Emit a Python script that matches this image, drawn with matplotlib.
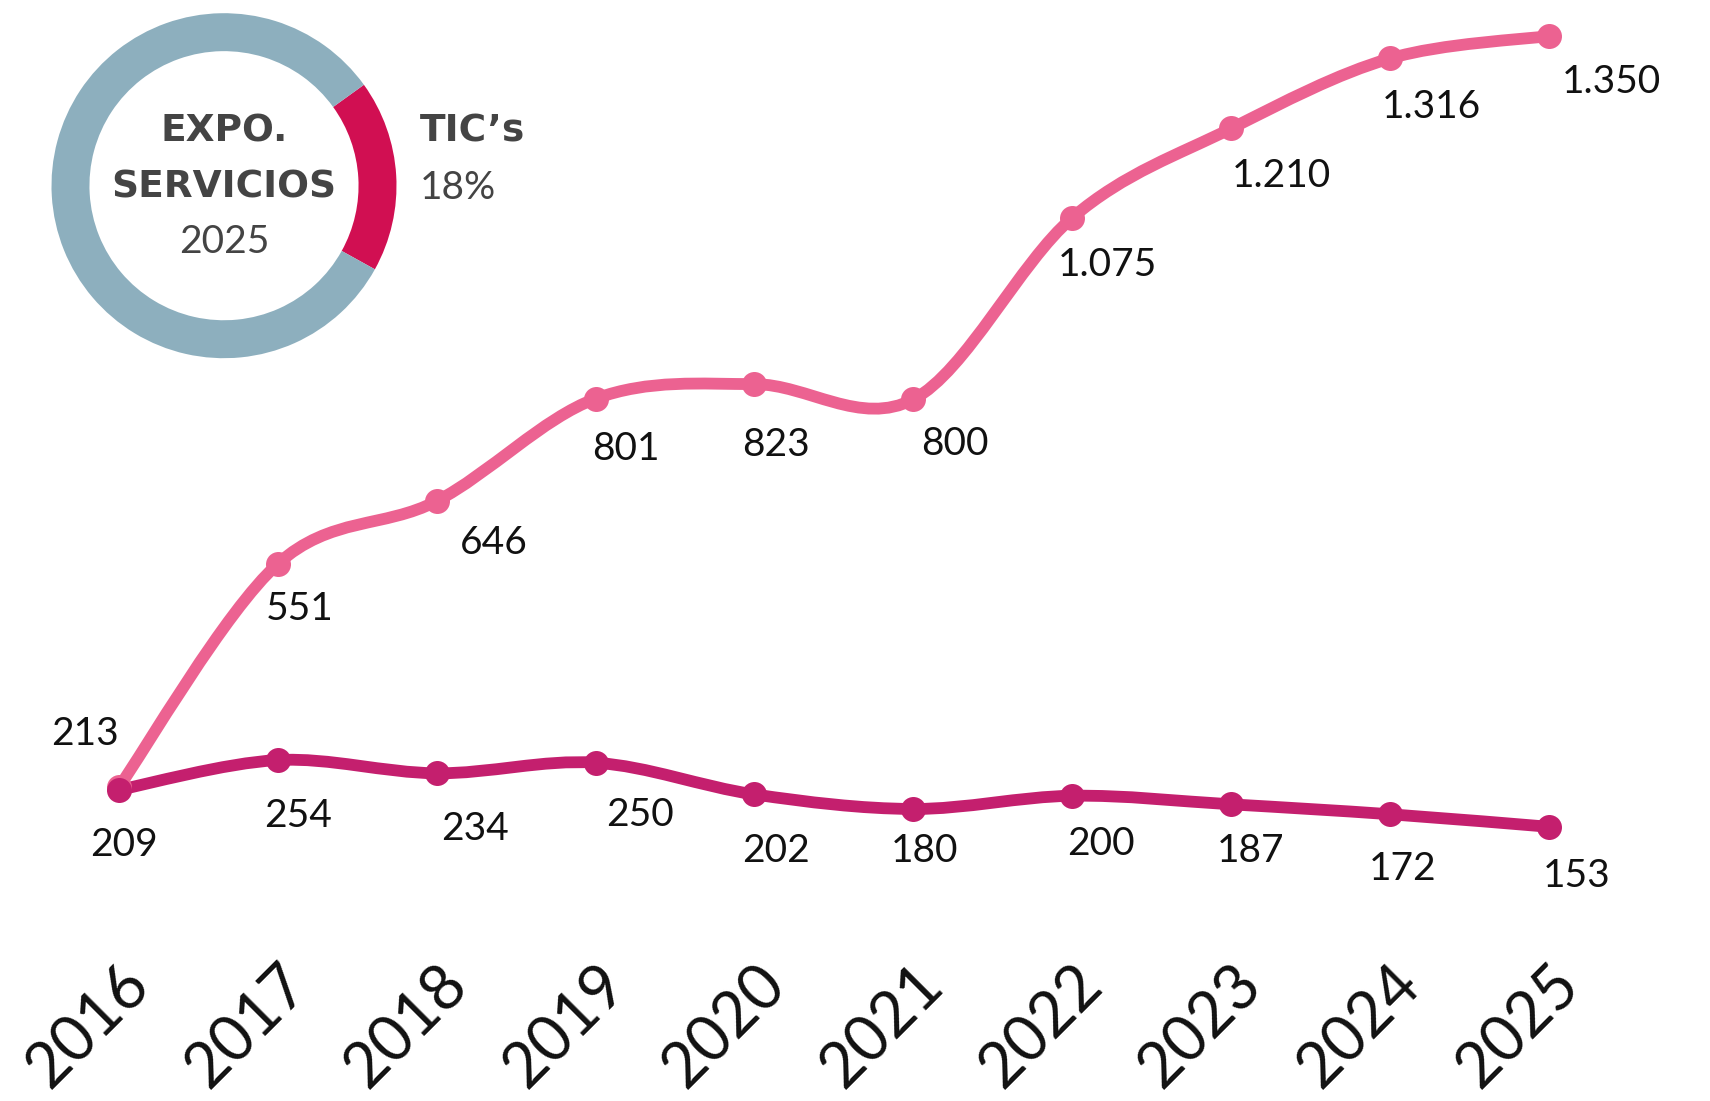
import numpy as np
import matplotlib.pyplot as plt
from matplotlib.path import Path
from matplotlib.patches import PathPatch

plt.rcParams['font.family'] = ['Lato', 'DejaVu Sans']

# Datos
years = [2016, 2017, 2018, 2019, 2020, 2021, 2022, 2023, 2024, 2025]
tics = [213, 551, 646, 801, 823, 800, 1075, 1210, 1316, 1350]
otros = [209, 254, 234, 250, 202, 180, 200, 187, 172, 153]
share_tics = 18

# Desplazamiento de las etiquetas (puntos)
tics_offsets = [(-31, 49), (20, -41), (52, -38), (28, -46), (20, -56),
                (38, -41), (32, -43), (46, -44), (38, -45), (57, -42)]
otros_offsets = [(5, -51), (19, -51), (35, -51), (41, -48), (20, -52),
                 (10, -39), (26, -44), (18, -43), (11, -50), (25, -45)]

pink = '#EC6291'
magenta = '#C41F6E'
red = '#D10F52'
grey = '#8DAFBE'
dark = '#444444'


def fmt(v):
    return f"{v:,}".replace(",", ".")


def smooth_path(x, y):
    # curva Catmull-Rom convertida a Bezier cubica
    pts = np.column_stack([x, y]).astype(float)
    n = len(pts)
    verts = [pts[0]]
    codes = [Path.MOVETO]
    for i in range(n - 1):
        p0 = pts[i - 1] if i > 0 else pts[i]
        p1 = pts[i]
        p2 = pts[i + 1]
        p3 = pts[i + 2] if i + 2 < n else pts[i + 1]
        c1 = p1 + (p2 - p0) / 6
        c2 = p2 - (p3 - p1) / 6
        verts += [c1, c2, p2]
        codes += [Path.CURVE4] * 3
    return Path(verts, codes)


fig = plt.figure(figsize=(17.1, 11.01), dpi=100)
ax = fig.add_axes([0, 0, 1, 1])
ax.set_xlim(2015.252, 2026.013)
ax.set_ylim(-262.0, 1404.4)
ax.axis('off')

for vals, col, offs in [(tics, pink, tics_offsets), (otros, magenta, otros_offsets)]:
    ax.add_patch(PathPatch(smooth_path(years, vals), facecolor='none',
                           edgecolor=col, lw=8.5, capstyle='round'))
    ax.plot(years, vals, 'o', color=col, ms=18, mec='none')
    for x, v, (dx, dy) in zip(years, vals, offs):
        ax.annotate(fmt(v), (x, v), xytext=(dx * 0.785, dy * 0.785),
                    textcoords='offset points', ha='center', va='center',
                    fontsize=28, color='#111111')

for x in years:
    ax.text(x + 0.13, -72, str(x), rotation=45, rotation_mode='anchor',
            ha='right', va='center', fontsize=45, color='#111111')

# Donut
ax2 = fig.add_axes([(224 - 172.5) / 1710, (1101 - 185.7 - 172.5) / 1101,
                    345 / 1710, 345 / 1101])
ax2.pie([share_tics, 100 - share_tics], colors=[red, grey], startangle=-29,
        counterclock=True, radius=1,
        wedgeprops=dict(width=0.22, edgecolor='none'))
ax2.set_xlim(-1, 1)
ax2.set_ylim(-1, 1)
bold = dict(family='DejaVu Sans', fontweight='bold', fontsize=27, color=dark)
ax2.text(0, 0.317, 'EXPO.', ha='center', va='center', **bold)
ax2.text(0, -0.013, 'SERVICIOS', ha='center', va='center', **bold)
ax2.text(1.136, 0.317, 'TIC\u2019s', ha='left', va='center', **bold)
ax2.text(0, -0.326, '2025', ha='center', va='center', fontsize=28, color=dark)
ax2.text(1.136, -0.013, f'{share_tics}%', ha='left', va='center', fontsize=28,
         color=dark)

plt.savefig('out.png', dpi=100)
